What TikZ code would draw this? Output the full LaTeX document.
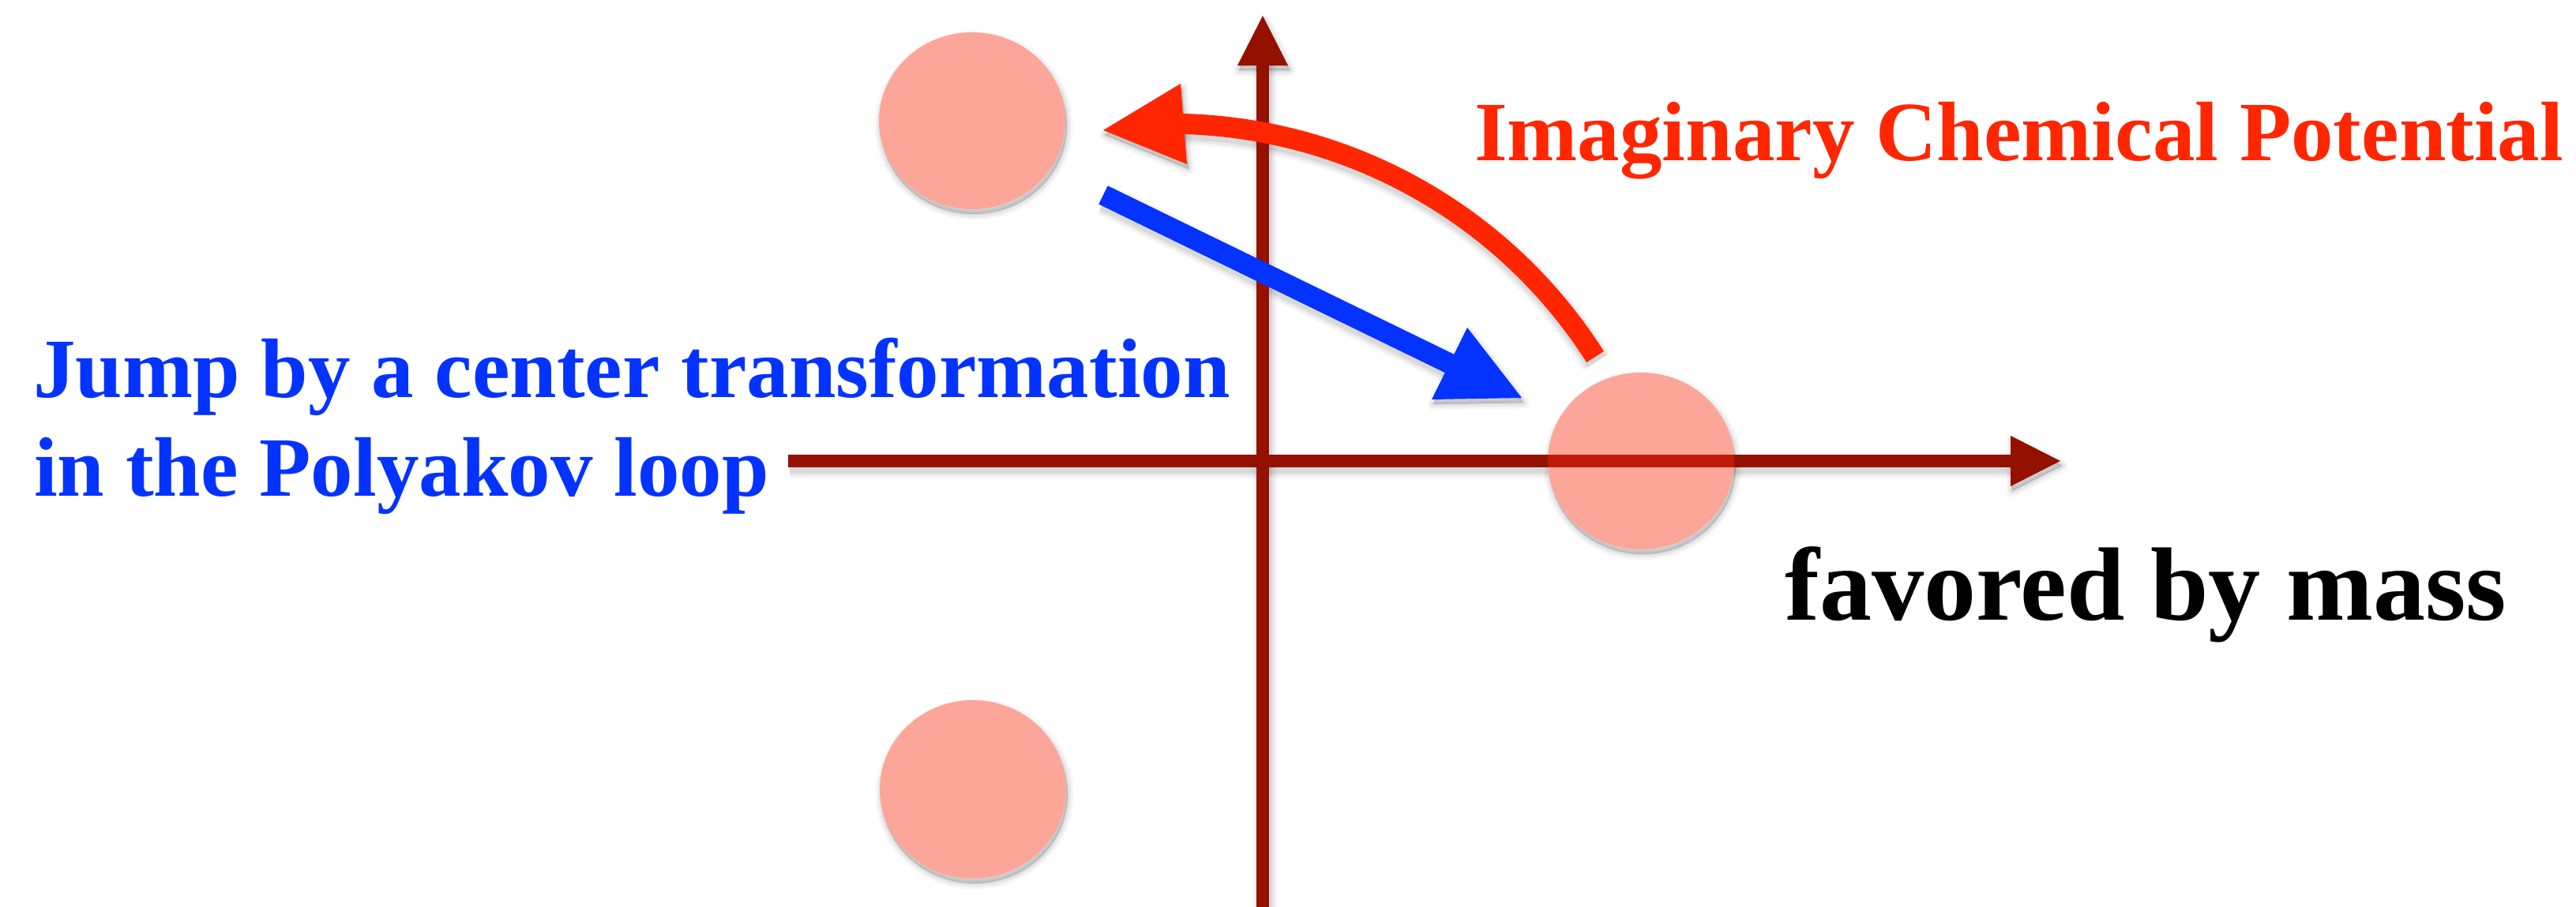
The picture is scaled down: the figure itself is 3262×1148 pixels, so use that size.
\documentclass[tikz,border=0pt]{standalone}
\usepackage{fontspec}
\setmainfont{Liberation Serif}
\usetikzlibrary{shapes.geometric}
\definecolor{axiscol}{RGB}{148,17,0}
\definecolor{redcol}{RGB}{255,38,0}
\definecolor{bluecol}{RGB}{4,51,255}
\definecolor{dotcol}{RGB}{248,43,12}
\newcommand\shadowgeom[1]{%
  \draw[line width=16pt+#1] (vbot) -- (vin);
  \filldraw[line width=#1, line join=round] (vl) -- (vtip) -- (vr) -- cycle;
  \draw[line width=16pt+#1] (hstart) -- (hin);
  \filldraw[line width=#1, line join=round] (hu) -- (htip) -- (hd) -- cycle;
  \draw[line width=26pt+#1] (rstart) .. controls (rc1) and (rc2) .. (rbase) -- (rin);
  \filldraw[line width=#1, line join=round] (ru) -- (rtip) -- (rd) -- cycle;
  \draw[line width=26pt+#1] (bstart) -- (bin);
  \filldraw[line width=#1, line join=round] (bu) -- (btip) -- (bd) -- cycle;
  \filldraw[line width=#1] (1231,153) ellipse [x radius=118, y radius=112];
  \filldraw[line width=#1] (1232,1000) ellipse [x radius=118, y radius=113];
  \filldraw[line width=#1] (2078,584) ellipse [x radius=118, y radius=112];
}
\begin{document}
\begin{tikzpicture}[x=1pt,y=-1pt,
  axisline/.style={draw=axiscol, line width=16pt},
  axishead/.style={fill=axiscol},
  redline/.style={draw=redcol, line width=26pt},
  redhead/.style={fill=redcol},
  blueline/.style={draw=bluecol, line width=26pt},
  bluehead/.style={fill=bluecol},
  dot/.style={ellipse, inner sep=0pt, fill=dotcol, fill opacity=0.42, draw=none},
  whitedot/.style={ellipse, inner sep=0pt, fill=white, draw=none},
  lbl/.style={anchor=base west, inner sep=0pt, font=\bfseries\fontsize{107pt}{125pt}\selectfont}]
\useasboundingbox (0,0) rectangle (3262,1148);
\clip (0,0) rectangle (3262,1148);
% vertical axis
\coordinate (vbot) at (1599,1170);
\coordinate (vin) at (1599,75);
\coordinate (vtip) at (1599,20);
\coordinate (vl) at (1567,83);
\coordinate (vr) at (1631,83);
% horizontal axis
\coordinate (hstart) at (998,584);
\coordinate (hin) at (2555,584);
\coordinate (htip) at (2609,584);
\coordinate (hu) at (2546,552);
\coordinate (hd) at (2546,616);
% red arc arrow
\coordinate (rstart) at (2020,452);
\coordinate (rc1) at (1906,273);
\coordinate (rc2) at (1711,163);
\coordinate (rbase) at (1499,157);
\coordinate (rin) at (1480,158.5);
\coordinate (rtip) at (1397,165);
\coordinate (ru) at (1495,106);
\coordinate (rd) at (1503,208);
% blue arrow
\coordinate (bstart) at (1397,247);
\coordinate (bin) at (1853,469);
\coordinate (btip) at (1927,504);
\coordinate (bu) at (1858,415);
\coordinate (bd) at (1813,506);
% soft shadows
\foreach \e/\o in {3/0.07, 9/0.05, 15/0.035}{
  \begin{scope}[transform canvas={shift={(2pt,-6pt)}}]
    \begin{scope}[black, opacity=\o]
      \shadowgeom{\e pt}
    \end{scope}
  \end{scope}
}
% clear shadows inside the translucent discs
\node[whitedot, minimum width=236pt, minimum height=224pt] (w1) at (1231,153) {};
\node[whitedot, minimum width=236pt, minimum height=226pt] (w2) at (1232,1000) {};
\node[whitedot, minimum width=236pt, minimum height=224pt] (w3) at (2078,584) {};
% axes
\draw[axisline] (vbot) -- (vin);
\fill[axishead] (vl) -- (vtip) -- (vr) -- cycle;
\draw[axisline] (hstart) -- (hin);
\fill[axishead] (hu) -- (htip) -- (hd) -- cycle;
% discs
\node[dot, minimum width=236pt, minimum height=224pt] (d1) at (1231,153) {};
\node[dot, minimum width=236pt, minimum height=226pt] (d2) at (1232,1000) {};
\node[dot, minimum width=236pt, minimum height=224pt] (d3) at (2078,584) {};
% red arc arrow
\draw[redline] (rstart) .. controls (rc1) and (rc2) .. (rbase) -- (rin);
\fill[redhead] (ru) -- (rtip) -- (rd) -- cycle;
% blue arrow
\draw[blueline] (bstart) -- (bin);
\fill[bluehead] (bu) -- (btip) -- (bd) -- cycle;
% labels
\node[lbl, text=redcol] (imag) at (1867,203) {Imaginary Chemical Potential};
\node[lbl, text=bluecol] (jump1) at (42,503) {Jump by a center transformation};
\node[lbl, text=bluecol] (jump2) at (43,628) {in the Polyakov loop};
\node[lbl, text=black, font=\bfseries\fontsize{132pt}{150pt}\selectfont] (mass) at (2260,785) {favored by mass};
\end{tikzpicture}
\end{document}
